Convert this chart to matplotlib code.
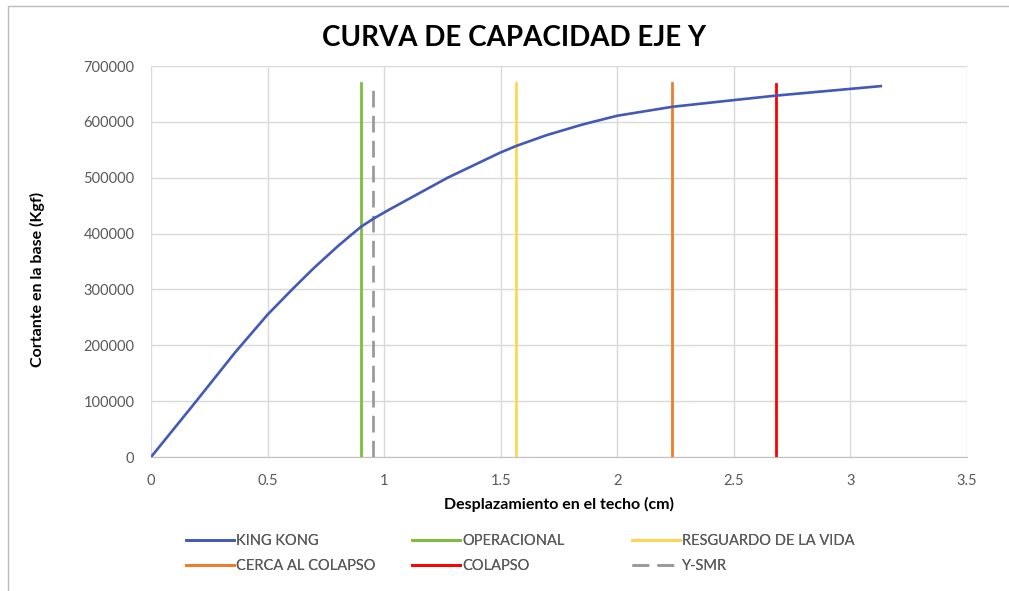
import matplotlib.pyplot as plt
from matplotlib.patches import Rectangle

plt.rcParams['font.family'] = ['Lato', 'DejaVu Sans']

# Curva de capacidad (pushover) - eje Y
desplazamiento = [0, 0.19, 0.36, 0.5, 0.6075, 0.7, 0.8, 0.851, 0.9, 0.955, 1.022, 1.272,
                  1.498, 1.567, 1.695, 1.84, 1.895, 2.0, 2.236, 2.5, 2.68, 3.13]
cortante = [0, 98000, 187000, 255000, 301000, 339000, 377000, 395000, 412000, 427000,
            443000, 500000, 545000, 557000, 576000, 594000, 600000, 611000, 627000,
            639000, 647000, 664000]

# Niveles de desempeño (desplazamiento, altura de la línea)
niveles = ['OPERACIONAL', 'RESGUARDO DE LA VIDA', 'CERCA AL COLAPSO', 'COLAPSO']
niveles_x = [0.90, 1.567, 2.236, 2.68]
niveles_top = [670000, 670000, 670000, 668000]
niveles_col = ['#7CBF3A', '#FFD54F', '#F07C28', '#FF0000']

smr_x = 0.953
smr_top = 660000

xticks = [0, 0.5, 1, 1.5, 2, 2.5, 3, 3.5]
yticks = [0, 100000, 200000, 300000, 400000, 500000, 600000, 700000]

fig = plt.figure(figsize=(10.09, 5.91), dpi=100)
ax = fig.add_axes([0.1497, 0.2267, 0.8087, 0.6616])

# marco del gráfico
fig.patches.append(Rectangle((8 / 1009, -0.1), 1.2, 1 - 6 / 591 + 0.1,
                             transform=fig.transFigure, fill=False,
                             edgecolor='#bcbcbc', linewidth=1.0))

lines = {}
lines['KING KONG'], = ax.plot(desplazamiento, cortante, color='#4259B8', lw=1.9,
                              zorder=5, solid_joinstyle='round')
for name, x, top, c in zip(niveles, niveles_x, niveles_top, niveles_col):
    lines[name], = ax.plot([x, x], [0, top], color=c, lw=2, zorder=4)
lines['Y-SMR'], = ax.plot([smr_x, smr_x], [0, smr_top], color='#9a9a9a', lw=2,
                          dashes=(6, 3), zorder=4)

ax.set_xlim(0, 3.5)
ax.set_ylim(0, 700000)
ax.set_xticks(xticks)
ax.set_xticklabels(['0', '0.5', '1', '1.5', '2', '2.5', '3', '3.5'])
ax.set_yticks(yticks)
ax.set_yticklabels([str(v) for v in yticks])
ax.tick_params(length=0, labelsize=10.5, labelcolor='#595959')
ax.tick_params(axis='x', pad=12)
ax.tick_params(axis='y', pad=12)
ax.grid(True, color='#d9d9d9', lw=1)
ax.set_axisbelow(True)
for side in ['top', 'right', 'left']:
    ax.spines[side].set_visible(False)
ax.spines['bottom'].set_color('#bfbfbf')

fig.text(514 / 1009, 1 - 38 / 591, 'CURVA DE CAPACIDAD EJE Y', fontsize=20,
         fontweight='bold', ha='center', va='center')
ax.set_xlabel('Desplazamiento en el techo (cm)', fontsize=11.5, fontweight='bold', labelpad=7)
ax.set_ylabel('Cortante en la base (Kgf)', fontsize=11.5, fontweight='bold')
ax.yaxis.set_label_coords(-0.130, 0.453)

# leyenda: tres columnas de dos filas
columnas = [['KING KONG', 'CERCA AL COLAPSO'],
            ['OPERACIONAL', 'COLAPSO'],
            ['RESGUARDO DE LA VIDA', 'Y-SMR']]
col_x = [186, 412, 632]
for names, x in zip(columnas, col_x):
    leg = fig.legend([lines[k] for k in names], names, loc='upper left',
                     bbox_to_anchor=(x / 1009, 1 - 534 / 591), frameon=False,
                     fontsize=10.5, handlelength=3.3, handletextpad=0.15,
                     labelspacing=0.75, borderpad=0, borderaxespad=0)
    for t in leg.get_texts():
        t.set_color('#595959')
    fig.add_artist(leg)

fig.savefig('out.png', dpi=100)
